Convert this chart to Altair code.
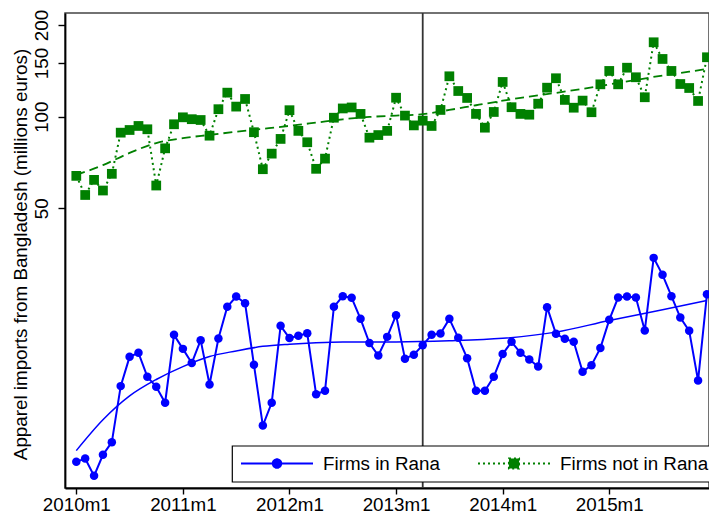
import altair as alt
import pandas as pd

# ---------------- data ----------------
series_names = ["Firms in Rana", "Firms not in Rana"]
tick_labels = ["2010m1", "2011m1", "2012m1", "2013m1", "2014m1", "2015m1"]
tick_months = [0, 12, 24, 36, 48, 60]
event_month = [39]  # 2013m4 (Rana Plaza)

# monthly imports, 2010m1 .. 2015m12 (millions euros)
rana = [7.35, 7.54, 6.61, 7.75, 8.53, 13.03, 16.26, 16.76, 13.98, 12.96, 11.49, 19.20,
        17.27, 15.51, 18.45, 13.19, 18.67, 23.73, 25.65, 24.40, 15.31, 9.67, 11.49, 20.56,
        18.74, 19.06, 19.42, 12.25, 12.58, 23.73, 25.73, 25.40, 21.67, 18.05, 16.42, 18.91,
        22.29, 16.04, 16.53, 17.76, 19.20, 19.39, 21.67, 18.77, 16.10, 12.58, 12.58, 13.98,
        16.60, 18.22, 16.76, 15.93, 15.11, 23.68, 19.35, 18.63, 18.22, 14.52, 15.27, 17.37,
        21.51, 25.46, 25.65, 25.46, 19.84, 34.37, 30.23, 25.73, 21.89, 19.79, 13.59, 26.12]
not_rana = [63.9, 55.3, 62.0, 57.2, 64.9, 88.6, 90.4, 93.2, 90.9, 59.4, 78.7, 94.4,
            99.5, 98.1, 97.5, 86.6, 105.8, 119.9, 107.9, 114.3, 88.9, 67.2, 75.6, 84.5,
            105.0, 89.8, 82.4, 67.4, 72.8, 99.2, 106.4, 107.2, 102.1, 85.3, 87.0, 89.8,
            115.4, 100.8, 93.6, 97.0, 93.2, 105.2, 135.7, 121.4, 115.2, 102.1, 92.0, 103.6,
            130.0, 107.4, 102.1, 101.5, 110.3, 124.5, 133.7, 113.5, 107.0, 112.9, 103.4, 127.7,
            141.3, 127.7, 144.8, 134.7, 115.8, 175.5, 154.7, 141.3, 128.0, 124.2, 112.6, 156.7]

# fitted trend curves
fit_rana_month = [0, 3, 6, 9, 12, 15, 18, 21, 24, 27, 30, 36, 42, 48, 54, 60, 66, 71]
fit_rana = [8.0, 10.1, 12.1, 13.7, 15.1, 16.3, 17.0, 17.6, 17.9, 18.1, 18.2, 18.2,
            18.35, 18.7, 19.6, 21.4, 23.2, 24.9]
fit_not_month = [0, 3, 6, 9, 12, 15, 18, 21, 24, 27, 30, 33, 36, 39, 42, 45, 48, 51,
                 54, 57, 60, 63, 66, 69, 71]
fit_not = [64.4, 69.3, 76.0, 81.9, 85.0, 87.1, 89.2, 91.2, 93.3, 95.6, 98.0, 99.8,
           100.8, 101.9, 105.2, 109.0, 112.8, 116.4, 119.7, 123.4, 127.6, 132.0, 136.5,
           140.5, 143.4]

# ---------------- tables ----------------
months = list(range(len(rana)))
df_rana = pd.DataFrame({"t": months, "v": rana})
df_not = pd.DataFrame({"t": months, "v": not_rana})
df_fit_rana = pd.DataFrame({"t": fit_rana_month, "v": fit_rana})
df_fit_not = pd.DataFrame({"t": fit_not_month, "v": fit_not})
df_event = pd.DataFrame({"t": event_month})
df_legend = pd.DataFrame({"series": series_names, "t": [0, 0], "v": [10, 10]})

BLUE = "#0000ff"
GREEN = "#008000"
FONT = "Liberation Sans"
FS = 18.8
W, H = 644, 475

label_expr = "[" + ",".join("'" + s + "'" for s in tick_labels) + "][round(datum.value / 12)]"

x_scale = alt.Scale(domain=[-1.272, 71.23], nice=False, zero=False)
y_scale = alt.Scale(type="log", domain=[6.03, 219], nice=False)

x_axis = alt.Axis(values=tick_months, labelExpr=label_expr, title=None, grid=False,
                  tickSize=6, labelPadding=16, labelBaseline="alphabetic",
                  labelFontSize=FS, labelFont=FONT, labelColor="black",
                  domainColor="black", domainWidth=1.8, tickColor="black", tickWidth=1.4)
y_axis = alt.Axis(values=[50, 100, 150, 200], format="d", grid=False,
                  title="Apparel imports from Bangladesh (millions euros)",
                  titleFontSize=FS, titleFont=FONT, titleFontWeight="normal", titleColor="black",
                  titleX=-38.3, titleY=241, titleAngle=270, titleAlign="center",
                  titleBaseline="alphabetic",
                  tickSize=7, labelAngle=270, labelAlign="center", labelBaseline="alphabetic",
                  labelPadding=10.3, labelFontSize=FS, labelFont=FONT, labelColor="black",
                  domainColor="black", domainWidth=1.8, tickColor="black", tickWidth=1.4)

X = alt.X("t:Q", scale=x_scale, axis=x_axis)
Y = alt.Y("v:Q", scale=y_scale, axis=y_axis)

event = alt.Chart(df_event).mark_rule(color="#333333", strokeWidth=1.8).encode(x=X)

fit_not_line = alt.Chart(df_fit_not).mark_line(
    color=GREEN, strokeWidth=1.8, strokeDash=[9, 5], interpolate="monotone").encode(x=X, y=Y)
fit_rana_line = alt.Chart(df_fit_rana).mark_line(
    color=BLUE, strokeWidth=1.5, interpolate="monotone").encode(x=X, y=Y)

not_line = alt.Chart(df_not).mark_line(
    color=GREEN, strokeWidth=2, strokeDash=[2, 3.5]).encode(x=X, y=Y)
not_pts = alt.Chart(df_not).mark_square(
    color=GREEN, size=95, opacity=1).encode(x=X, y=Y)

rana_line = alt.Chart(df_rana).mark_line(color=BLUE, strokeWidth=2).encode(x=X, y=Y)
rana_pts = alt.Chart(df_rana).mark_circle(color=BLUE, size=72, opacity=1).encode(x=X, y=Y)

# legend (built from scales on the series names)
circle_path = ("M-1,0L1,0M-0.118,0A0.118,0.118,0,1,0,0.118,0"
               "A0.118,0.118,0,1,0,-0.118,0Z")
square_path = "M-1,0L1,0M-0.14,-0.14L0.14,-0.14L0.14,0.14L-0.14,0.14Z"
leg = dict(title=None, orient="none", legendX=167, legendY=432.7, direction="horizontal",
           padding=8, strokeColor="black", fillColor="white", clipHeight=19,
           symbolSize=5184, symbolStrokeWidth=2, labelFontSize=FS, labelFont=FONT,
           labelColor="black", labelOffset=9, columnPadding=37, labelLimit=400)
legend_layer = alt.Chart(df_legend).mark_point(filled=True, opacity=1, strokeWidth=2).encode(
    x=X, y=Y,
    fill=alt.Fill("series:N", scale=alt.Scale(domain=series_names, range=[BLUE, GREEN]),
                  legend=alt.Legend(**leg)),
    stroke=alt.Stroke("series:N", scale=alt.Scale(domain=series_names, range=[BLUE, GREEN]),
                      legend=alt.Legend(**leg)),
    shape=alt.Shape("series:N", scale=alt.Scale(domain=series_names,
                                                range=[circle_path, square_path]),
                    legend=alt.Legend(**leg)),
    strokeDash=alt.StrokeDash("series:N", scale=alt.Scale(domain=series_names,
                                                          range=[[1, 0], [2, 3]]),
                              legend=alt.Legend(**leg)),
).transform_filter("false")

chart = alt.layer(
    event, fit_not_line, fit_rana_line, not_line, not_pts, rana_line, rana_pts, legend_layer
).properties(
    width=W, height=H,
    background="white",
    autosize=alt.AutoSizeParams(type="none"),
    padding={"left": 57, "top": 5, "right": 0, "bottom": 26},
).configure_view(
    stroke="#444444", strokeWidth=1.5
).configure_legend(
    strokeWidth=1.2
)

chart.save("out.html", embed_options={"renderer": "svg", "actions": False})
